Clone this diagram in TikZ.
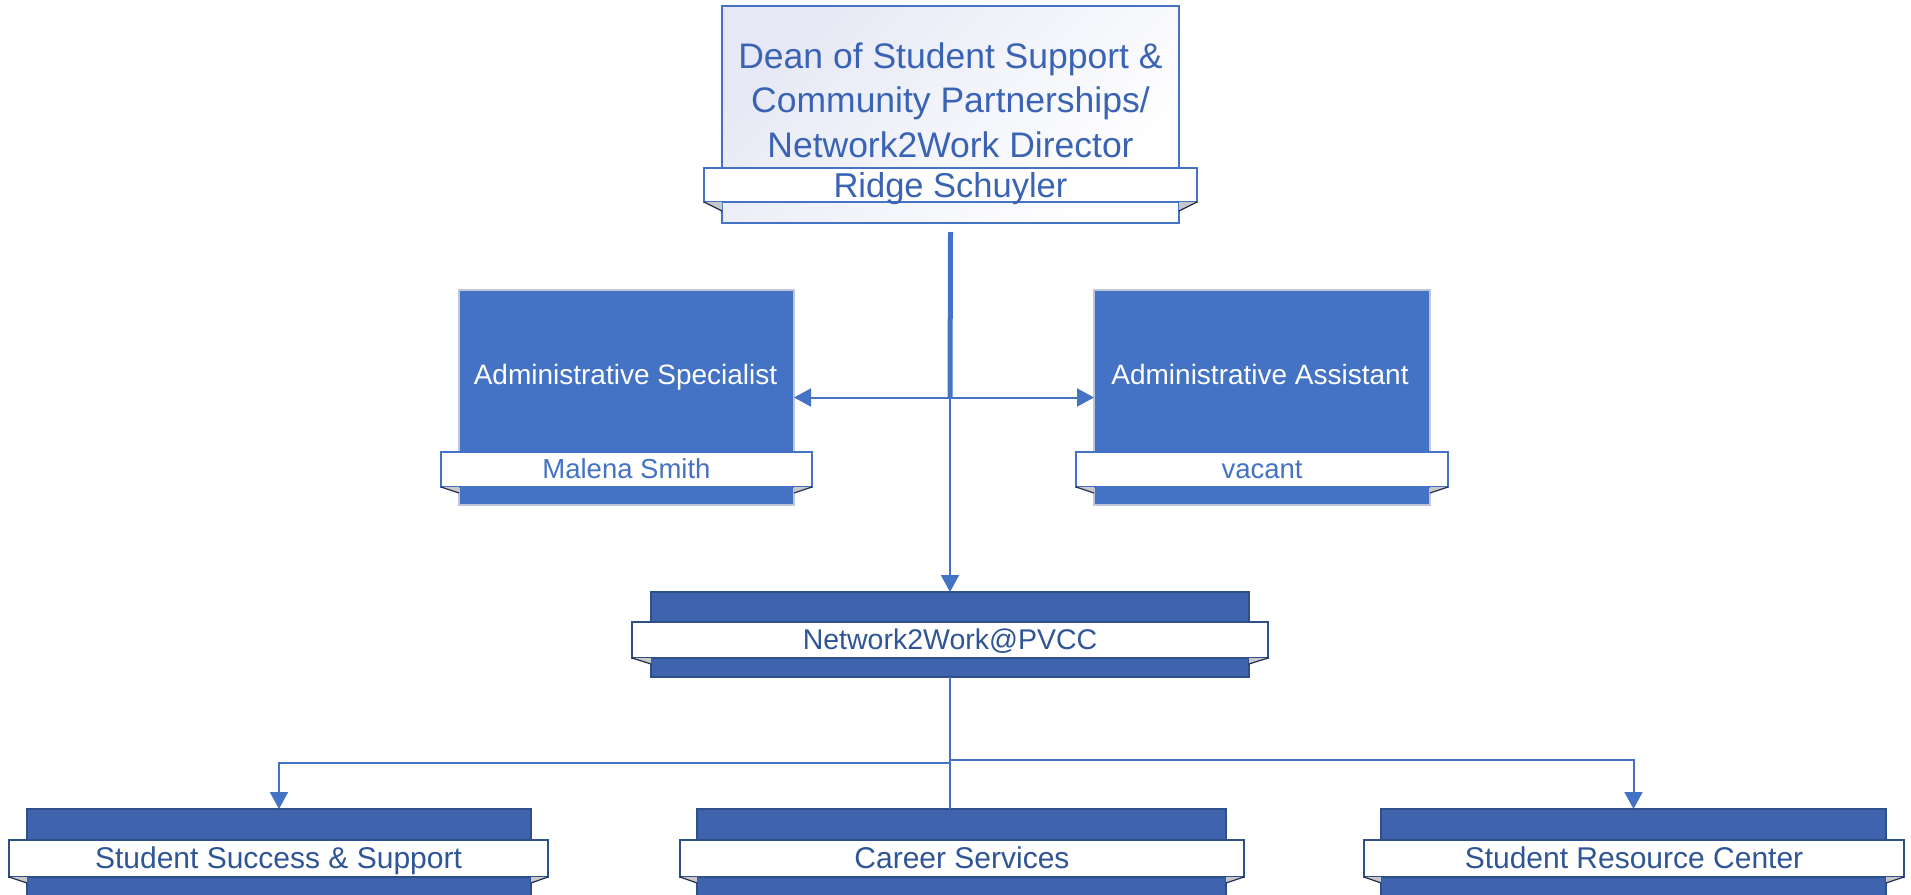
\documentclass[tikz,border=0pt]{standalone}
\usepackage{fontspec}
\setmainfont{Liberation Sans}
\usetikzlibrary{arrows.meta}
\definecolor{cblue}{HTML}{4472C4}
\definecolor{ctitle}{HTML}{3A63B3}
\definecolor{cnavy}{HTML}{3F64AD}
\definecolor{cnavyline}{HTML}{2E4F8A}
\definecolor{cnavytext}{HTML}{2F5597}
\definecolor{cfold}{HTML}{C8C8C8}
\definecolor{cfoldline}{HTML}{1F2D50}
\definecolor{cgrad}{HTML}{E6E9F5}
\definecolor{cgrayline}{HTML}{BFC6D6}
\tikzset{
  every node/.style={inner sep=0pt, outer sep=0pt},
  deanbox/.style={draw=cblue, line width=2pt, top color=cgrad, bottom color=white, shading angle=45},
  deanband/.style={draw=cblue, line width=2pt, fill=white, text=ctitle, font=\fontsize{34.5}{40}\selectfont, text height=24pt, text depth=0pt},
  admbox/.style={draw=cgrayline, line width=1.2pt, fill=cblue},
  admband/.style={draw=cblue, line width=1.5pt, fill=white, text=cblue, font=\fontsize{27.5}{32}\selectfont, text height=17pt, text depth=0pt},
  admtext/.style={text=white, font=\fontsize{28}{32}\selectfont, anchor=base},
  unitbox/.style={draw=cnavyline, line width=1.5pt, fill=cnavy},
  unitband/.style={draw=cnavyline, line width=1.8pt, fill=white, text=cnavytext, font=\fontsize{30}{34}\selectfont, text height=19pt, text depth=0pt},
  foldfill/.style={fill=cfold},
  foldline/.style={draw=cfoldline, line width=1.2pt},
  conn/.style={draw=cblue, line width=2pt},
  tip/.style={-{Triangle[width=18pt,length=17pt]}},
}
% #1 box, #2 band, #3 drop
\newcommand{\myfolds}[3]{%
  \fill[foldfill] (#2.south west) -- (#1.west |- #2.south) -- ([yshift=-#3pt]#1.west |- #2.south) -- cycle;
  \draw[foldline] (#2.south west) -- ([yshift=-#3pt]#1.west |- #2.south);
  \fill[foldfill] (#2.south east) -- (#1.east |- #2.south) -- ([yshift=-#3pt]#1.east |- #2.south) -- cycle;
  \draw[foldline] (#2.south east) -- ([yshift=-#3pt]#1.east |- #2.south);
}
\begin{document}
\begin{tikzpicture}[x=1pt,y=-1pt]
\clip (0,0) rectangle (1911,894);
\fill[white] (0,0) rectangle (1911,894);

% Dean
\node[deanbox, minimum width=457pt, minimum height=217pt] (dean) at (950.5,114.5) {};
\node[text=ctitle, font=\fontsize{35.5}{44.5}\selectfont, align=center] (deantitle) at (950.5,100)
  {Dean of Student Support \&\\Community Partnerships/\\Network2Work Director};
\node[deanband, minimum width=493pt, minimum height=34pt] (deanband) at (950.5,185) {Ridge Schuyler};
\myfolds{dean}{deanband}{9}

% Administrative Specialist
\node[admbox, minimum width=335pt, minimum height=215pt] (spec) at (626.5,397.5) {};
\node[admtext] (spect) at (625.5,384) {Administrative Specialist};
\node[admband, minimum width=371pt, minimum height=35pt] (specband) at (626.5,469.5) {Malena Smith};
\myfolds{spec}{specband}{6}

% Administrative Assistant
\node[admbox, minimum width=336pt, minimum height=215pt] (asst) at (1262,397.5) {};
\node[admtext] (asstt) at (1260,384) {Administrative Assistant};
\node[admband, minimum width=372pt, minimum height=35pt] (asstband) at (1262,469.5) {vacant};
\myfolds{asst}{asstband}{6}

% Network2Work
\node[unitbox, minimum width=598pt, minimum height=85pt] (net) at (950,634.5) {};
\node[unitband, font=\fontsize{28.5}{34}\selectfont, text height=18pt, minimum width=636pt, minimum height=36pt] (netband) at (950,640) {Network2Work@PVCC};
\myfolds{net}{netband}{6}

% Bottom units
\node[unitbox, minimum width=504pt, minimum height=88pt] (ss) at (279,853) {};
\node[unitband, minimum width=539pt, minimum height=37pt] (ssband) at (278.5,858.5) {Student Success \& Support};
\myfolds{ss}{ssband}{6}
\node[unitbox, minimum width=529pt, minimum height=88pt] (car) at (961.5,853) {};
\node[unitband, minimum width=564pt, minimum height=37pt] (carband) at (962,858.5) {Career Services};
\myfolds{car}{carband}{6}
\node[unitbox, minimum width=505pt, minimum height=88pt] (src) at (1633.5,853) {};
\node[unitband, minimum width=540pt, minimum height=37pt] (srcband) at (1634,858.5) {Student Resource Center};
\myfolds{src}{srcband}{6}

% connectors
\coordinate (j1) at (950,397.5);
\coordinate (bl) at (950,763);
\coordinate (br) at (950,760);
\draw[draw=cblue, line width=5pt] ([yshift=-9pt]dean.south) -- (j1);
\draw[conn, tip] (j1) -- (spec.east);
\draw[conn, tip] (j1) -- (asst.west);
\draw[conn, tip] (j1) -- (net.north);
\draw[conn] (net.south) -- (net.south |- car.north);
\draw[conn, tip] (bl) -| (ss.north);
\draw[conn, tip] (br) -| (src.north);
\end{tikzpicture}
\end{document}
